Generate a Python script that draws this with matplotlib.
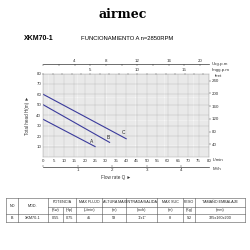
import numpy as np
import matplotlib
matplotlib.use("Agg")
import matplotlib.pyplot as plt
from matplotlib.ticker import MultipleLocator, FixedLocator

plt.rcParams['font.family'] = ['Liberation Sans', 'DejaVu Sans']

# pump curves: flow (L/min) vs total head (m)
flow_a = [0, 25]
head_a = [36, 10]
flow_b = [0, 32]
head_b = [50, 14]
flow_c = [0, 40]
head_c = [60, 17.5]
curve_labels = ['A', 'B', 'C']
label_pos = [(23.5, 15), (31.5, 18.5), (38.5, 23.5)]

lmin_ticks = list(range(0, 85, 5))
m3h_ticks = [0, 1, 2, 3, 4]
usg_ticks = list(range(0, 22, 2))
usg_labels = [4, 8, 12, 16, 20]
imp_ticks = list(range(0, 18))
imp_labels = [5, 10, 15]
head_ticks = [10, 20, 30, 40, 50, 60, 70, 80]
feet_ticks = [40, 80, 120, 160, 200, 240]

# spec table
hdr1 = ['NO', 'MOD.', 'POTENCIA', 'MAX FLUJO', 'ALTURA MAX', 'ENTRADA/SALIDA', 'MAX SUC', 'PESO', 'TAMAÑO EMBALAJE']
hdr2 = ['(Kw)', '(Hp)', '(L/min)', '(m)', '(inch)', '(m)', '(Kg)', '(mm)']
row = ['B', 'XKM70-1', '0.55', '0.75', '45', '58', '1"x1"', '8', '9.2', '325x160x200']

W = 250.0
fig = plt.figure(figsize=(2.5, 2.5), dpi=100)

def fx(px):
    return px / W

def fy(py):
    return 1 - py / W

# overlay in pixel coordinates for header and table
ov = fig.add_axes([0, 0, 1, 1])
ov.set_xlim(0, 250)
ov.set_ylim(250, 0)
ov.axis('off')

ov.text(123, 15, 'airmec', fontsize=9, fontweight='bold', family='DejaVu Serif',
        ha='center', va='center')
ov.text(24, 38, 'XKM70-1', fontsize=5, fontweight='bold', ha='left', va='center')
ov.text(81, 38, 'FUNCIONAMIENTO A n=2850RPM', fontsize=4.2, ha='left', va='center')

# main chart
x0, x1, ytop, ybot = 43.3, 209, 73.5, 157
ax = fig.add_axes([fx(x0), fy(ybot), fx(x1 - x0), (ybot - ytop) / W])
ax.set_xlim(0, 80)
ax.set_ylim(0, 80)
ax.set_facecolor('#f7f7f7')
ax.xaxis.set_minor_locator(MultipleLocator(1))
ax.yaxis.set_minor_locator(MultipleLocator(2))
ax.set_xticks(lmin_ticks)
ax.set_yticks(head_ticks)
ax.grid(which='minor', color='#cdcdcd', linewidth=0.25)
ax.grid(which='major', color='#ababab', linewidth=0.35)
ax.set_axisbelow(True)
for s in ax.spines.values():
    s.set_color('#ababab')
    s.set_linewidth(0.35)
ax.tick_params(which='both', length=0, labelsize=3.2, pad=1.5, colors='#333333')

for fl, hd in [(flow_a, head_a), (flow_b, head_b), (flow_c, head_c)]:
    ax.plot(fl, hd, color='#3b3b9c', linewidth=0.8)
for lab, (lx, ly) in zip(curve_labels, label_pos):
    ax.text(lx, ly, lab, fontsize=3.5, ha='center', va='center', color='#222222')

# right: feet
axr = ax.twinx()
axr.set_ylim(0, 80 * 3.281)
axr.set_yticks(feet_ticks)
axr.tick_params(length=1.2, width=0.3, labelsize=3.2, pad=1, colors='#333333')
for s in axr.spines.values():
    s.set_visible(False)

# top: imperial gpm on the grid top edge
imp = ax.secondary_xaxis('top', functions=(lambda q: q / 4.546, lambda g: g * 4.546))
imp.xaxis.set_major_locator(FixedLocator(imp_ticks))
imp.xaxis.set_major_formatter(plt.FuncFormatter(lambda v, p: str(int(round(v))) if int(round(v)) in imp_labels else ''))
imp.tick_params(length=1.2, width=0.3, labelsize=3.2, pad=0.8, colors='#333333', direction='in')
imp.spines['top'].set_visible(False)

# upper: US gpm
usg = ax.secondary_xaxis(1.11, functions=(lambda q: q / 3.785, lambda g: g * 3.785))
usg.xaxis.set_major_locator(FixedLocator(usg_ticks))
usg.xaxis.set_major_formatter(plt.FuncFormatter(lambda v, p: str(int(round(v))) if int(round(v)) in usg_labels else ''))
usg.tick_params(length=1.2, width=0.3, labelsize=3.2, pad=0.8, colors='#333333', direction='in')
usg.spines['top'].set_linewidth(0.5)
usg.spines['top'].set_color('#333333')

# bottom: m3/h
m3 = ax.secondary_xaxis(-0.12, functions=(lambda q: q * 0.06, lambda c: c / 0.06))
m3.xaxis.set_major_locator(FixedLocator(m3h_ticks))
m3.xaxis.set_major_formatter(plt.FuncFormatter(lambda v, p: '' if round(v) == 0 else str(int(round(v)))))
m3.tick_params(length=1.2, width=0.3, labelsize=3.2, pad=0.8, colors='#333333', direction='in')
m3.spines['bottom'].set_linewidth(0.5)
m3.spines['bottom'].set_color('#333333')

unit_kw = dict(fontsize=3.2, ha='left', va='center', color='#333333')
ov.text(212, 64, 'Usg.p.m', **unit_kw)
ov.text(212, 70, 'Imgg.p.m', **unit_kw)
ov.text(215, 76, 'feet', **unit_kw)
ov.text(213, 160, 'L/min', **unit_kw)
ov.text(213, 169, 'M³/h', **unit_kw)
ov.text(28, 115, 'Total head H(m) ►', fontsize=3.3, rotation=90, ha='center', va='center',
        color='#333333', family=['Liberation Sans', 'DejaVu Sans'])
ov.text(116, 178, 'Flow rate Q ►', fontsize=3.3, ha='center', va='center',
        color='#333333', family=['Liberation Sans', 'DejaVu Sans'])

# table
cols = [6, 18.3, 47.7, 62.7, 76, 102.3, 126, 157.3, 183, 195, 245]
rows_y = [197.7, 206.5, 214, 221.5]
lk = dict(color='#555555', linewidth=0.4)
ov.plot([cols[0], cols[-1]], [rows_y[0], rows_y[0]], **lk)
ov.plot([cols[0], cols[-1]], [rows_y[3], rows_y[3]], **lk)
ov.plot([cols[0], cols[-1]], [rows_y[2], rows_y[2]], **lk)
ov.plot([cols[2], cols[-1]], [rows_y[1], rows_y[1]], **lk)
for i, c in enumerate(cols):
    top = rows_y[1] if i == 3 else rows_y[0]
    ov.plot([c, c], [top, rows_y[3]], **lk)

tk = dict(fontsize=2.7, ha='center', va='center', color='#222222')
hdr_spans = [(0, 1), (1, 2), (2, 4), (4, 5), (5, 6), (6, 7), (7, 8), (8, 9), (9, 10)]
for txt, (a, b) in zip(hdr1, hdr_spans):
    yy = (rows_y[0] + rows_y[2]) / 2 if a < 2 else (rows_y[0] + rows_y[1]) / 2
    ov.text((cols[a] + cols[b]) / 2, yy, txt, **tk)
for j, txt in enumerate(hdr2):
    a = j + 2
    ov.text((cols[a] + cols[a + 1]) / 2, (rows_y[1] + rows_y[2]) / 2, txt, **tk)
for j, txt in enumerate(row):
    ov.text((cols[j] + cols[j + 1]) / 2, (rows_y[2] + rows_y[3]) / 2, txt, **tk)

fig.savefig('out.png', dpi=100)
